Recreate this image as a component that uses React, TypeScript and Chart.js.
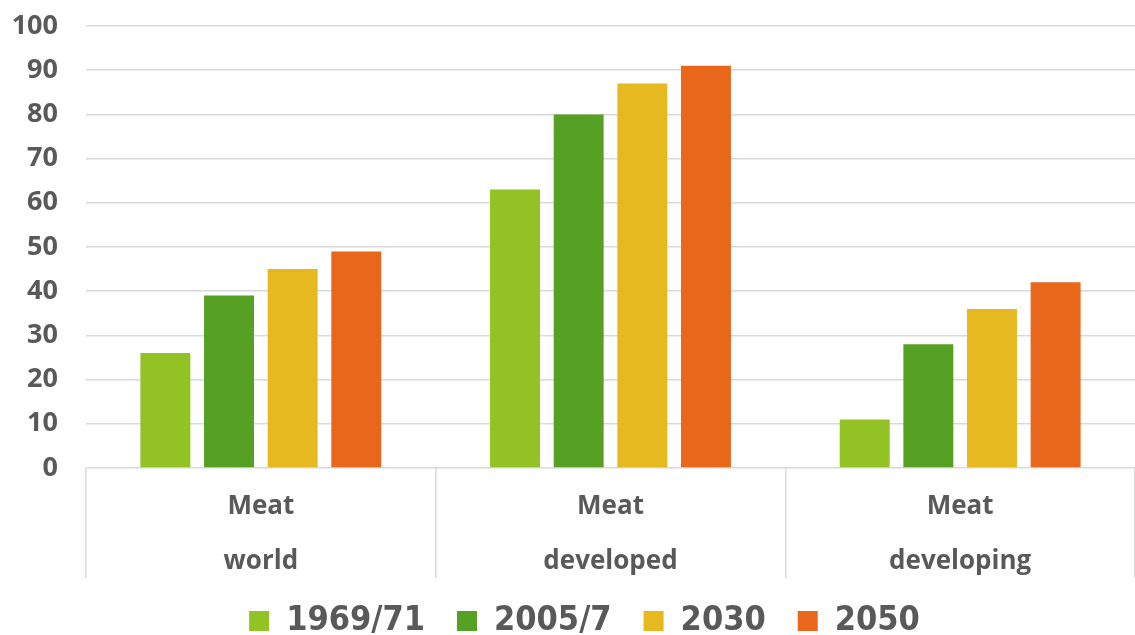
import React, { useEffect, useRef } from "react";
import { Chart, registerables } from "chart.js";

Chart.register(...registerables);

const categories: string[][] = [
  ["Meat", "world"],
  ["Meat", "developed"],
  ["Meat", "developing"],
];
const seriesNames: string[] = ["1969/71", "2005/7", "2030", "2050"];
const values1969: number[] = [26, 63, 11];
const values2005: number[] = [39, 80, 28];
const values2030: number[] = [45, 87, 36];
const values2050: number[] = [49, 91, 42];
const seriesColors: string[] = ["#93C225", "#56A124", "#E5B91F", "#E8671A"];
const yTicks: number[] = [0, 10, 20, 30, 40, 50, 60, 70, 80, 90, 100];

const TEXT = "#595959";
const GRID = "#d9d9d9";

// keeps the two-line category labels from being clipped to the (short) x-axis box,
// and nudges the legend row to the right like in the reference
const layoutTweaks = {
  id: "layoutTweaks",
  afterLayout(chart: any) {
    const x = chart.scales.x;
    if (x) x.bottom = chart.height;
    const lg = chart.legend;
    if (lg) {
      lg.left += 17;
      lg.right += 17;
    }
  },
};

export default function App() {
  const canvasRef = useRef<HTMLCanvasElement | null>(null);

  useEffect(() => {
    if (!canvasRef.current) return;
    const all = [values1969, values2005, values2030, values2050];
    const chart = new Chart(canvasRef.current, {
      type: "bar",
      plugins: [layoutTweaks],
      data: {
        labels: categories,
        datasets: all.map((vals, i) => ({
          label: seriesNames[i],
          data: vals,
          backgroundColor: seriesColors[i],
          borderWidth: 0,
          categoryPercentage: 0.728,
          barPercentage: 0.785,
        })),
      },
      options: {
        animation: false,
        responsive: true,
        maintainAspectRatio: false,
        layout: { padding: { top: 26, right: 0, left: 0, bottom: 0 } },
        plugins: {
          tooltip: { enabled: false },
          legend: {
            position: "bottom",
            labels: {
              color: TEXT,
              boxWidth: 20,
              boxHeight: 20,
              padding: 32,
              font: {
                family: '"DejaVu Sans Condensed", "Liberation Sans Narrow", "DejaVu Sans", sans-serif',
                size: 34,
                weight: "bold",
              },
            },
          },
        },
        scales: {
          x: {
            offset: true,
            border: { display: false },
            grid: {
              offset: true,
              drawOnChartArea: false,
              drawTicks: true,
              tickLength: 110,
              color: GRID,
              lineWidth: 1.5,
            },
            ticks: {
              color: TEXT,
              padding: -99,
              maxRotation: 0,
              autoSkip: false,
              font: {
                family: '"Open Sans", sans-serif',
                size: 26,
                weight: "bold",
                lineHeight: 55 / 26,
              },
            },
            afterFit: (scale: any) => {
              scale.height = 104;
            },
          },
          y: {
            min: 0,
            max: 100,
            border: { display: false },
            grid: {
              color: GRID,
              lineWidth: 1.5,
              drawTicks: false,
            },
            afterBuildTicks: (scale: any) => {
              scale.ticks = yTicks.map((v) => ({ value: v }));
            },
            ticks: {
              color: TEXT,
              padding: 28,
              autoSkip: false,
              font: {
                family: '"Open Sans", sans-serif',
                size: 27,
                weight: "bold",
              },
            },
            afterFit: (scale: any) => {
              scale.width = 86;
              scale.paddingTop = 0;
              scale.paddingBottom = 0;
            },
          },
        },
      },
    });
    return () => chart.destroy();
  }, []);

  return (
    <div style={{ position: "absolute", left: 0, top: 0, width: 1135, height: 635, overflow: "hidden", background: "#fff" }}>
      <div style={{ position: "relative", width: 1135, height: 648 }}>
        <canvas ref={canvasRef} />
      </div>
    </div>
  );
}
